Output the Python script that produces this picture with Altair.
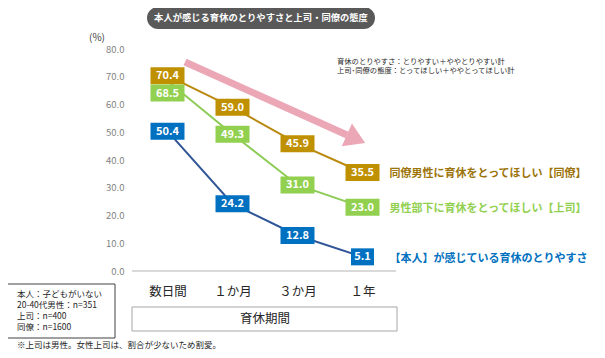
import altair as alt
import pandas as pd

periods = ["数日間", "１か月", "３か月", "１年"]
series_names = ["同僚", "上司", "本人"]
douryou = [70.4, 59.0, 45.9, 35.5]
joshi = [68.5, 49.3, 31.0, 23.0]
honnin = [50.4, 24.2, 12.8, 5.1]
series_labels = [
    "同僚男性に育休をとってほしい【同僚】",
    "男性部下に育休をとってほしい【上司】",
    "【本人】が感じている育休のとりやすさ",
]
y_ticks = [0, 10, 20, 30, 40, 50, 60, 70, 80]
box_colors = ["#BF9000", "#92D050", "#0070C0"]
line_colors = ["#B8890C", "#8CCB55", "#2F5597"]
text_colors = ["#9C7409", "#92D050", "#0070C0"]

title_text = "本人が感じる育休のとりやすさと上司・同僚の態度"
note_lines = ["本人：子どもがいない", "20-40代男性：n=351", "上司：n=400", "同僚：n=1600"]
footnote = "※上司は男性。女性上司は、割合が少ないため割愛。"
legend_lines = ["育休のとりやすさ：とりやすい＋ややとりやすい計",
                "上司･同僚の態度：とってほしい＋ややとってほしい計"]
x_title = "育休期間"

FONT = "Noto Sans CJK JP"
W, H = 260, 222

rows = []
for s, vals in zip(series_names, [douryou, joshi, honnin]):
    for p, v in zip(periods, vals):
        rows.append({"series": s, "period": p, "value": v})
df = pd.DataFrame(rows)
ends = pd.DataFrame({"series": series_names, "period": [periods[-1]] * 3,
                     "value": [douryou[-1], joshi[-1], honnin[-1]],
                     "label": series_labels})

yaxis = alt.Axis(title=None, values=y_ticks, format=".1f",
                 labelFont=FONT, labelFontSize=9.5, labelColor="#7F7F7F",
                 labelOverlap=False, labelPadding=11, domain=False, ticks=False, grid=False)
yscale = alt.Scale(domain=[0, 80])
xs = alt.X("period:N", sort=periods, scale=alt.Scale(type="point", padding=0.5),
           axis=alt.Axis(title=None, labelAngle=0, labelFont=FONT, labelFontSize=12.5,
                         labelColor="#262626", labelPadding=14, domain=False, ticks=False,
                         grid=False))

base = alt.Chart(df)

lines = base.mark_line(strokeWidth=2).encode(
    x=xs, y=alt.Y("value:Q", scale=yscale, axis=yaxis), detail="series:N",
    stroke=alt.Stroke("series:N", scale=alt.Scale(domain=series_names, range=line_colors),
                      legend=None))

baseline = base.mark_rule(color="#D9D9D9", strokeWidth=1.5).encode(
    y=alt.Y(datum=0, scale=yscale, axis=yaxis), x=alt.value(-3), x2=alt.value(W + 1))

labeled = base.transform_calculate(
    ly="datum.series == '上司' && datum.period == '数日間' ? datum.value - 4.4 : datum.value",
    label="format(datum.value, '.1f')",
)
box4 = "M-1.7,-0.85L1.7,-0.85L1.7,0.85L-1.7,0.85Z"
box3 = "M-1.15,-0.85L1.15,-0.85L1.15,0.85L-1.15,0.85Z"
boxes = labeled.mark_point(filled=True, opacity=1, size=400, strokeWidth=0).encode(
    x=alt.X("period:N", sort=periods), y=alt.Y("ly:Q", axis=yaxis),
    fill=alt.Fill("series:N", scale=alt.Scale(domain=series_names, range=box_colors), legend=None),
    shape=alt.condition("length(datum.label) > 3", alt.value(box4), alt.value(box3)))
box_text = labeled.mark_text(font=FONT, fontSize=11, fontWeight="bold", color="white",
                             baseline="middle", align="center", dy=0.5).encode(
    x=alt.X("period:N", sort=periods), y=alt.Y("ly:Q", axis=yaxis), text="label:N")

end_text = alt.Chart(ends).mark_text(font=FONT, fontSize=11, fontWeight="bold", align="left",
                                     baseline="middle", dx=27, dy=2).encode(
    x=alt.X("period:N", sort=periods), y=alt.Y("value:Q", axis=yaxis),
    color=alt.Color("series:N", scale=alt.Scale(domain=series_names, range=text_colors), legend=None),
    text="label:N")

# pink trend arrow
arrow_df = pd.DataFrame({"a": [0]})
shaft = alt.Chart(arrow_df).mark_rule(color="#EBA7B6", strokeWidth=7).encode(
    x=alt.value(50), y=alt.value(13), x2=alt.value(212), y2=alt.value(86))
head = alt.Chart(arrow_df).mark_point(shape="M-1,-1.25L1,0L-1,1.25Z", size=400, filled=True,
                                      opacity=1, color="#EBA7B6", angle=24, strokeWidth=0).encode(
    x=alt.value(221), y=alt.value(90))

# title pill
pill = alt.Chart(arrow_df).mark_rect(color="#595959", cornerRadius=11).encode(
    x=alt.value(12), x2=alt.value(240), y=alt.value(-42), y2=alt.value(-20))
title = alt.Chart(arrow_df).mark_text(
    text=title_text, font=FONT, fontSize=9.3, fontWeight="bold", color="white",
    align="center", baseline="middle").encode(x=alt.value(126), y=alt.value(-31))

pct = alt.Chart(arrow_df).mark_text(
    text="(%)", font=FONT, fontSize=10, color="#404040", align="center", baseline="middle").encode(
    x=alt.value(-38), y=alt.value(-11))

legend_txt = alt.Chart(arrow_df).mark_text(
    text=legend_lines, lineHeight=9, font=FONT, fontSize=7.3, color="#262626",
    align="left", baseline="top").encode(x=alt.value(202), y=alt.value(9))

# sample-size note box
note_box = alt.Chart(arrow_df).mark_rect(fill="white", stroke="#404040", strokeWidth=1).encode(
    x=alt.value(-128), x2=alt.value(-20), y=alt.value(235), y2=alt.value(289))
note_txt = alt.Chart(arrow_df).mark_text(
    text=note_lines, lineHeight=11, font=FONT, fontSize=8.5, color="#262626",
    align="left", baseline="top").encode(x=alt.value(-118), y=alt.value(241))

foot = alt.Chart(arrow_df).mark_text(
    text=footnote, font=FONT, fontSize=8.5, color="#262626", align="left", baseline="middle").encode(
    x=alt.value(-118), y=alt.value(296))

# x-axis title box
xbox = alt.Chart(arrow_df).mark_rect(fill="white", stroke="#A6A6A6", strokeWidth=1).encode(
    x=alt.value(-3), x2=alt.value(262), y=alt.value(258), y2=alt.value(282))
xtitle = alt.Chart(arrow_df).mark_text(
    text=x_title, font=FONT, fontSize=12.5, color="#262626", align="center", baseline="middle").encode(
    x=alt.value(130), y=alt.value(270))

chart = alt.layer(
    lines, baseline, boxes, box_text, end_text, shaft, head, pill, title, pct, legend_txt,
    note_box, note_txt, foot, xbox, xtitle
).resolve_scale(color="independent", fill="independent", stroke="independent").properties(
    width=W, height=H,
    background="white",
    autosize=alt.AutoSizeParams(type="none"),
    padding={"left": 127, "top": 41, "right": 202, "bottom": 79},
).configure_view(stroke=None)

chart.save("out.html", embed_options={"renderer": "svg", "actions": False})
